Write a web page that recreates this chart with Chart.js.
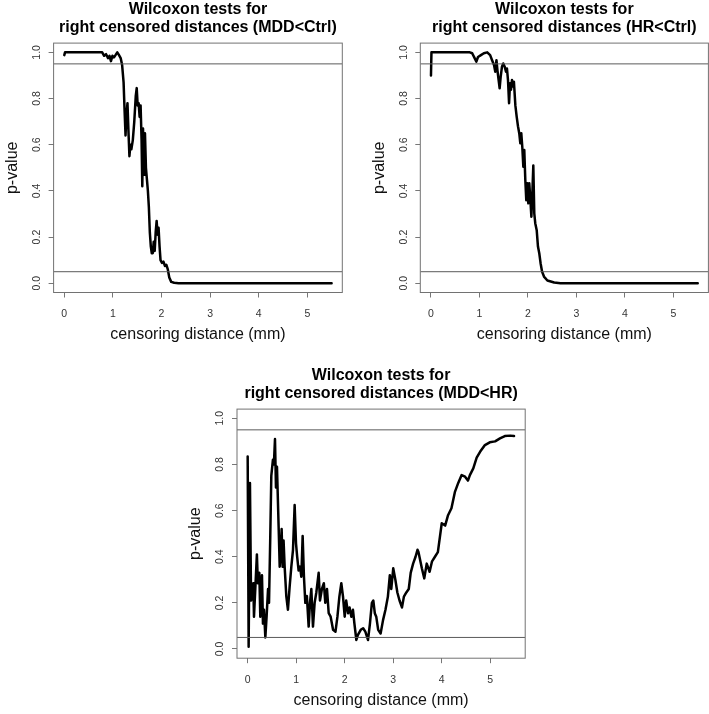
<!DOCTYPE html>
<html><head><meta charset="utf-8">
<script src="https://cdn.jsdelivr.net/npm/chart.js@4/dist/chart.umd.min.js"></script>
<style>
html,body{margin:0;padding:0;background:#fff;overflow:hidden;width:709px;height:714px;}
canvas{position:absolute;}
</style></head><body>
<canvas id="c1"></canvas><canvas id="c2"></canvas><canvas id="c3"></canvas>
<script>
// ---- tick labels / axis settings ----
const xTicks = [0, 1, 2, 3, 4, 5];
const yTicks = [0, 0.2, 0.4, 0.6, 0.8, 1.0];
const xRange = [-0.22, 5.72];
const yRange = [-0.04, 1.04];
const refLevels = [0.05, 0.95];
const xLabel = 'censoring distance (mm)';
const yLabel = 'p-value';

// ---- titles ----
const title1 = ['Wilcoxon tests for', 'right censored distances (MDD<Ctrl)'];
const title2 = ['Wilcoxon tests for', 'right censored distances (HR<Ctrl)'];
const title3 = ['Wilcoxon tests for', 'right censored distances (MDD<HR)'];

// ---- series: MDD<Ctrl ----
const dist1 = [0, 0.015, 0.2, 0.5, 0.78, 0.82, 0.86, 0.9, 0.93, 0.96, 0.99, 1.02, 1.06, 1.09, 1.12, 1.16, 1.19, 1.22, 1.24, 1.26, 1.28, 1.3, 1.32, 1.34, 1.36, 1.38, 1.41, 1.44, 1.47, 1.49, 1.51, 1.53, 1.55, 1.57, 1.59, 1.605, 1.62, 1.64, 1.66, 1.68, 1.7, 1.72, 1.74, 1.76, 1.78, 1.8, 1.82, 1.84, 1.86, 1.88, 1.9, 1.92, 1.94, 1.96, 1.98, 2.01, 2.04, 2.07, 2.1, 2.13, 2.16, 2.2, 2.26, 2.35, 2.5, 3.5, 4.5, 5.5];
const pval1 = [0.988, 1.0, 1.0, 1.0, 1.0, 0.985, 0.992, 0.975, 0.985, 0.962, 0.985, 0.978, 0.99, 1.0, 0.99, 0.975, 0.945, 0.87, 0.75, 0.64, 0.73, 0.78, 0.66, 0.55, 0.6, 0.58, 0.62, 0.7, 0.81, 0.845, 0.77, 0.78, 0.72, 0.77, 0.62, 0.42, 0.67, 0.47, 0.65, 0.5, 0.45, 0.4, 0.33, 0.22, 0.16, 0.13, 0.13, 0.18, 0.14, 0.22, 0.27, 0.21, 0.24, 0.16, 0.1, 0.088, 0.094, 0.075, 0.08, 0.06, 0.025, 0.006, 0.002, 0.0005, 0, 0, 0, 0];

// ---- series: HR<Ctrl ----
const dist2 = [0, 0.01, 0.3, 0.6, 0.8, 0.85, 0.9, 0.936, 0.97, 1.03, 1.09, 1.16, 1.22, 1.26, 1.3, 1.326, 1.35, 1.37, 1.395, 1.416, 1.437, 1.464, 1.49, 1.52, 1.547, 1.567, 1.588, 1.61, 1.63, 1.65, 1.67, 1.69, 1.71, 1.74, 1.767, 1.794, 1.82, 1.842, 1.862, 1.883, 1.904, 1.924, 1.945, 1.965, 1.986, 2.007, 2.027, 2.05, 2.07, 2.09, 2.11, 2.13, 2.15, 2.18, 2.206, 2.233, 2.26, 2.29, 2.33, 2.4, 2.54, 2.67, 3.5, 4.5, 5.5];
const pval2 = [0.9, 1.0, 1.0, 1.0, 1.0, 0.996, 0.975, 0.96, 0.98, 0.988, 0.996, 1.0, 0.988, 0.966, 0.945, 0.916, 0.966, 0.923, 0.88, 0.844, 0.894, 0.938, 0.952, 0.938, 0.916, 0.93, 0.88, 0.78, 0.866, 0.838, 0.88, 0.852, 0.873, 0.77, 0.722, 0.68, 0.65, 0.606, 0.65, 0.59, 0.505, 0.577, 0.447, 0.36, 0.433, 0.346, 0.433, 0.36, 0.288, 0.39, 0.51, 0.303, 0.26, 0.23, 0.159, 0.13, 0.087, 0.051, 0.029, 0.012, 0.003, 0.0, 0, 0, 0];

// ---- series: MDD<HR ----
const dist3 = [0.0, 0.02, 0.047, 0.07, 0.116, 0.13, 0.157, 0.19, 0.21, 0.24,
  0.26, 0.295, 0.315, 0.336, 0.364, 0.39, 0.42, 0.44, 0.466, 0.487,
  0.52, 0.54, 0.563, 0.583, 0.604, 0.638, 0.66, 0.68, 0.70, 0.72,
  0.74, 0.762, 0.797, 0.83, 0.865, 0.90, 0.934, 0.968, 0.996, 1.02,
  1.05, 1.08, 1.106, 1.133, 1.16, 1.188, 1.22, 1.257, 1.284, 1.312,
  1.346, 1.38, 1.415, 1.463, 1.49, 1.53, 1.57, 1.60, 1.635, 1.67,
  1.71, 1.76, 1.81, 1.85, 1.89, 1.93, 1.965, 2.0, 2.03, 2.07,
  2.1, 2.137, 2.17, 2.2, 2.24, 2.27, 2.33, 2.38, 2.425, 2.48,
  2.52, 2.56, 2.59, 2.62, 2.65, 2.69, 2.74, 2.79, 2.84, 2.89,
  2.93, 2.96, 3.0, 3.044, 3.085, 3.13, 3.18, 3.22, 3.27, 3.32,
  3.36, 3.41, 3.46, 3.5, 3.52, 3.59, 3.64, 3.69, 3.75, 3.8,
  3.86, 3.92, 4.0, 4.07, 4.13, 4.2, 4.27, 4.34, 4.41, 4.48,
  4.54, 4.58, 4.65, 4.72, 4.79, 4.89, 4.99, 5.1, 5.2, 5.3,
  5.41, 5.49];
const pval3 = [0.834, 0.01, 0.72, 0.21, 0.285, 0.14, 0.26, 0.41, 0.285, 0.33,
  0.14, 0.32, 0.11, 0.17, 0.05, 0.14, 0.26, 0.2, 0.49, 0.75,
  0.82, 0.80, 0.91, 0.70, 0.79, 0.53, 0.357, 0.415, 0.52, 0.357,
  0.47, 0.357, 0.227, 0.17, 0.27, 0.357, 0.43, 0.624, 0.458, 0.40,
  0.34, 0.357, 0.313, 0.49, 0.313, 0.2, 0.23, 0.097, 0.2, 0.26,
  0.097, 0.2, 0.245, 0.33, 0.21, 0.26, 0.285, 0.2, 0.26, 0.155,
  0.14, 0.083, 0.075, 0.14, 0.227, 0.285, 0.227, 0.14, 0.21, 0.155,
  0.18, 0.14, 0.17, 0.11, 0.039, 0.06, 0.083, 0.09, 0.075, 0.039,
  0.11, 0.2, 0.21, 0.155, 0.14, 0.083, 0.067, 0.125, 0.17, 0.227,
  0.32, 0.26, 0.35, 0.30, 0.245, 0.21, 0.18, 0.227, 0.245, 0.26,
  0.33, 0.37, 0.40, 0.43, 0.42, 0.35, 0.306, 0.37, 0.335, 0.38,
  0.40, 0.42, 0.545, 0.535, 0.58, 0.61, 0.68, 0.72, 0.754, 0.747,
  0.73, 0.754, 0.783, 0.83, 0.855, 0.884, 0.896, 0.90, 0.913, 0.923,
  0.925, 0.923];

// ---- drawing ----
const FAMILY = '"Liberation Sans", Arial, Helvetica, sans-serif';
Chart.defaults.font.family = FAMILY;

const TICK_FONT = 10.5;
const measureCtx = document.createElement('canvas').getContext('2d');
measureCtx.font = TICK_FONT + 'px ' + FAMILY;
const widestTick = Math.max(...yTicks.map(v => measureCtx.measureText(v.toFixed(1)).width));

const boxPlugin = {
  id: 'rbox',
  afterDatasetsDraw(chart) {
    const {ctx, chartArea: a} = chart;
    ctx.save();
    ctx.strokeStyle = '#727272';
    ctx.lineWidth = 1;
    ctx.strokeRect(a.left, a.top, a.right - a.left, a.bottom - a.top);
    ctx.restore();
  }
};

function makePanel(id, canvasRect, area, title, xs, ys) {
  const cv = document.getElementById(id);
  const [cl, ct, cw, ch] = canvasRect;
  cv.width = cw; cv.height = ch;
  Object.assign(cv.style, {left: cl + 'px', top: ct + 'px', width: cw + 'px', height: ch + 'px'});
  const [al, at, ar, ab] = area;
  const yAxisW = al - cl;
  const xAxisH = (ct + ch) - ab;
  const padRight = (cl + cw) - ar;
  const tLH = 18;
  const tPadTop = (at - 33.5) - ct - tLH / 2;
  const tPadBottom = (at - ct) - tPadTop - 2 * tLH;
  const aLH = 19.2;
  const xTitlePadBottom = (ct + ch) - (ab + 42.5) - aLH / 2;
  const yTitlePadTop = (al - 41) - cl - aLH / 2;
  const tickLen = 5;
  const xTickPad = 21.5 - tickLen - TICK_FONT * 1.2 / 2;
  const yTickPad = 16.5 - tickLen - widestTick / 2;

  const refSets = refLevels.map(lv => ({
    data: [{x: xRange[0], y: lv}, {x: xRange[1], y: lv}],
    borderColor: '#5a5a5a', borderWidth: 1, pointRadius: 0, tension: 0
  }));

  return new Chart(cv, {
    type: 'line',
    data: {
      datasets: [
        ...refSets,
        {
          data: xs.map((x, i) => ({x, y: ys[i]})),
          borderColor: '#000', borderWidth: 2.5, pointRadius: 0, tension: 0,
          borderJoinStyle: 'round', borderCapStyle: 'round'
        }
      ]
    },
    options: {
      responsive: false, animation: false, devicePixelRatio: 1,
      layout: {padding: {left: 0, top: 0, bottom: 0, right: padRight}},
      plugins: {
        legend: {display: false}, tooltip: {enabled: false},
        title: {
          display: true, text: title, fullSize: false, color: '#000',
          font: {size: 16, weight: 'bold', lineHeight: tLH + 'px'},
          padding: {top: tPadTop, bottom: tPadBottom}
        }
      },
      scales: {
        x: {
          type: 'linear', min: xRange[0], max: xRange[1],
          afterBuildTicks: s => { s.ticks = xTicks.map(v => ({value: v})); },
          afterFit: s => { s.height = xAxisH; },
          ticks: {font: {size: TICK_FONT}, color: '#333', padding: xTickPad, minRotation: 0, maxRotation: 0,
                  autoSkip: false, callback: v => String(v)},
          grid: {drawOnChartArea: false, drawTicks: true, tickLength: tickLen, color: '#777', lineWidth: 1},
          border: {display: false},
          title: {display: true, text: xLabel, color: '#111', font: {size: 16, lineHeight: 1.2},
                  padding: {top: 0, bottom: xTitlePadBottom}}
        },
        y: {
          type: 'linear', min: yRange[0], max: yRange[1],
          afterBuildTicks: s => { s.ticks = yTicks.map(v => ({value: v})); },
          afterFit: s => { s.width = yAxisW; },
          ticks: {font: {size: TICK_FONT}, color: '#333', padding: yTickPad, minRotation: 90, maxRotation: 90,
                  crossAlign: 'center', autoSkip: false, callback: v => v.toFixed(1)},
          grid: {drawOnChartArea: false, drawTicks: true, tickLength: tickLen, color: '#777', lineWidth: 1},
          border: {display: false},
          title: {display: true, text: yLabel, color: '#111', font: {size: 16, lineHeight: 1.2},
                  padding: {top: yTitlePadTop, bottom: 0}}
        }
      }
    },
    plugins: [boxPlugin]
  });
}

makePanel('c1', [0, 0, 354, 357], [53.6, 43.1, 342.3, 292.5], title1, dist1, pval1);
makePanel('c2', [360, 0, 349, 357], [420.3, 43.1, 708.4, 292.5], title2, dist2, pval2);
makePanel('c3', [180, 357, 360, 357], [237.0, 409.1, 525.2, 658.2], title3, dist3, pval3);
</script>
</body></html>
